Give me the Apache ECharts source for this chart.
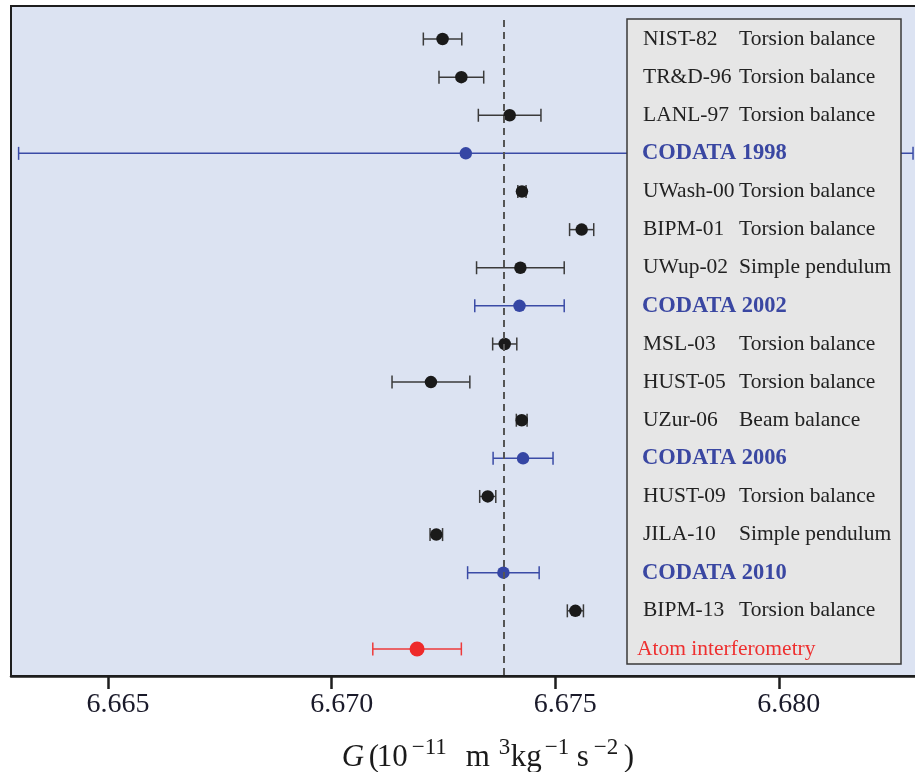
<!DOCTYPE html>
<html>
<head>
<meta charset="utf-8">
<script src="https://cdn.jsdelivr.net/npm/echarts@6/dist/echarts.min.js"></script>
<style>
  html, body { margin: 0; padding: 0; background: #ffffff; overflow: hidden; width: 915px; height: 772px; }
  /* the plot frame runs past the right edge of the page, so the canvas is a little wider */
  #chart { width: 945px; height: 772px; }
</style>
</head>
<body>
<div id="chart"></div>
<script>
// Measurements of Newton's constant G (units of 1e-11 m^3 kg^-1 s^-2), top to bottom
const names = ['NIST-82', 'TR&D-96', 'LANL-97', 'CODATA 1998', 'UWash-00', 'BIPM-01', 'UWup-02',
  'CODATA 2002', 'MSL-03', 'HUST-05', 'UZur-06', 'CODATA 2006', 'HUST-09', 'JILA-10',
  'CODATA 2010', 'BIPM-13', 'Atom interferometry'];
const methods = ['Torsion balance', 'Torsion balance', 'Torsion balance', '', 'Torsion balance',
  'Torsion balance', 'Simple pendulum', '', 'Torsion balance', 'Torsion balance', 'Beam balance', '',
  'Torsion balance', 'Simple pendulum', '', 'Torsion balance', ''];
const kinds = ['exp', 'exp', 'exp', 'codata', 'exp', 'exp', 'exp', 'codata', 'exp', 'exp', 'exp',
  'codata', 'exp', 'exp', 'codata', 'exp', 'atom'];
const gValues = [6.67248, 6.6729, 6.67398, 6.673, 6.674255, 6.67559, 6.67422, 6.6742, 6.67387,
  6.67222, 6.67425, 6.67428, 6.67349, 6.67234, 6.67384, 6.67545, 6.67191];
const gUncert = [0.00043, 0.0005, 0.0007, 0.010, 0.000092, 0.00027, 0.00098, 0.0010, 0.00027,
  0.00087, 0.00012, 0.00067, 0.00018, 0.00014, 0.0008, 0.00018, 0.00099];
const referenceG = 6.67384;
const xTicks = [6.665, 6.670, 6.675, 6.680];

const SERIF = '"Liberation Serif", "DejaVu Serif", serif';
const palette = {
  exp:    { dot: '#1a1a1a', bar: '#3a3a3a', text: '#222222', size: 12.5 },
  codata: { dot: '#3546a4', bar: '#3a4ba6', text: '#3a47a2', size: 12.5 },
  atom:   { dot: '#ee2a2a', bar: '#ee3a3a', text: '#ee3030', size: 15 }
};

const rows = gValues.map((v, i) => [v, i, gUncert[i]]);

const chart = echarts.init(document.getElementById('chart'), null, { renderer: 'canvas' });

const titleFont = { fontFamily: SERIF, fontSize: 31, color: '#1a1a1a', align: 'left' };
const supFont = { fontFamily: SERIF, fontSize: 23, color: '#1a1a1a', align: 'left', padding: [0, 0, 20, 0] };

const option = {
  animation: false,
  backgroundColor: '#ffffff',
  grid: {
    left: 11, top: 6, width: 924.4, bottom: 96,
    outerBoundsMode: 'none',
    containLabel: false,
    show: true,
    backgroundColor: '#dce3f2',
    borderColor: '#1e1e1e',
    borderWidth: 2
  },
  xAxis: {
    type: 'value',
    min: 6.66283,
    max: 6.6835,
    splitLine: { show: false },
    axisLine: { show: true, onZero: false, lineStyle: { color: '#1e1e1e', width: 2.5 } },
    axisTick: {
      show: true, inside: false, length: 13, customValues: xTicks,
      lineStyle: { color: '#1e1e1e', width: 2.5 }
    },
    axisLabel: {
      customValues: xTicks,
      formatter: v => v.toFixed(3),
      fontFamily: SERIF, fontSize: 28, color: '#1a1a2a',
      margin: 15, padding: [0, 0, 0, 20]
    },
    name: '{g|G}{p|(}{n|10}{s1|\u221211}{m|m}{s2|3}{kg|kg}{s3|\u22121}{sv|s}{s4|\u22122}{c|)}',
    nameLocation: 'middle',
    nameGap: 60,
    nameTextStyle: {
      padding: [0, 0, 0, 28],
      rich: {
        g: Object.assign({}, titleFont, { fontStyle: 'italic', width: 27 }),
        p: Object.assign({}, titleFont, { width: 8 }),
        n: Object.assign({}, titleFont, { width: 35 }),
        s1: Object.assign({}, supFont, { width: 54 }),
        m: Object.assign({}, titleFont, { width: 33 }),
        s2: Object.assign({}, supFont, { width: 12 }),
        kg: Object.assign({}, titleFont, { width: 34 }),
        s3: Object.assign({}, supFont, { width: 32 }),
        sv: Object.assign({}, titleFont, { width: 17 }),
        s4: Object.assign({}, supFont, { width: 30 }),
        c: Object.assign({}, titleFont, { width: 9 })
      }
    }
  },
  yAxis: {
    type: 'value',
    inverse: true,
    min: -0.866,
    max: 16.71,
    show: false
  },
  graphic: [{
    type: 'rect',
    z: 10,
    shape: { x: 627, y: 19, width: 274, height: 645 },
    style: { fill: '#e6e6e6', stroke: '#3a3a3a', lineWidth: 1.5 }
  }],
  series: [
    {
      // horizontal error bars with end caps
      type: 'custom',
      z: 2,
      data: rows,
      encode: { x: 0, y: 1 },
      renderItem: (params, api) => {
        const v = api.value(0), i = api.value(1), u = api.value(2);
        const lo = api.coord([v - u, i]);
        const hi = api.coord([v + u, i]);
        const c = palette[kinds[i]].bar;
        const cap = 6.5;
        const style = { stroke: c, lineWidth: 1.5 };
        return {
          type: 'group',
          children: [
            { type: 'line', shape: { x1: lo[0], y1: lo[1], x2: hi[0], y2: hi[1] }, style },
            { type: 'line', shape: { x1: lo[0], y1: lo[1] - cap, x2: lo[0], y2: lo[1] + cap }, style },
            { type: 'line', shape: { x1: hi[0], y1: hi[1] - cap, x2: hi[0], y2: hi[1] + cap }, style }
          ]
        };
      },
      markLine: {
        silent: true,
        symbol: ['none', 'none'],
        label: { show: false },
        lineStyle: { color: '#555555', width: 2, type: [7, 5] },
        data: [[{ coord: [referenceG, -0.5] }, { coord: [referenceG, 16.71] }]]
      }
    },
    {
      type: 'scatter',
      z: 3,
      symbol: 'circle',
      data: rows.map(r => ({
        value: r,
        symbolSize: palette[kinds[r[1]]].size,
        itemStyle: { color: palette[kinds[r[1]]].dot, opacity: 1 }
      }))
    },
    {
      // row labels inside the key box
      type: 'custom',
      z: 20,
      data: rows,
      encode: { x: 0, y: 1 },
      renderItem: (params, api) => {
        const i = api.value(1);
        const y = api.coord([gValues[i], i])[1];
        const k = kinds[i];
        const children = [];
        if (k === 'exp') {
          children.push({ type: 'text', x: 643, y,
            style: { text: names[i], fill: palette.exp.text, font: '21.5px ' + SERIF, align: 'left', verticalAlign: 'middle' } });
          children.push({ type: 'text', x: 739, y,
            style: { text: methods[i], fill: palette.exp.text, font: '21.5px ' + SERIF, align: 'left', verticalAlign: 'middle' } });
        } else if (k === 'codata') {
          children.push({ type: 'text', x: 642, y,
            style: { text: names[i], fill: palette.codata.text, font: 'bold 22.5px ' + SERIF, align: 'left', verticalAlign: 'middle' } });
        } else {
          children.push({ type: 'text', x: 637, y,
            style: { text: names[i], fill: palette.atom.text, font: '21.5px ' + SERIF, align: 'left', verticalAlign: 'middle' } });
        }
        return { type: 'group', children };
      }
    }
  ]
};

chart.setOption(option);
</script>
</body>
</html>
